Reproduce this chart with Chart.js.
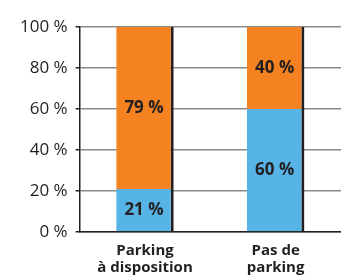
<!DOCTYPE html>
<html>
<head>
<meta charset="utf-8">
<script src="https://cdn.jsdelivr.net/npm/chart.js@4.4.1/dist/chart.umd.min.js"></script>
<style>
  html, body { margin: 0; padding: 0; background: #fff; }
  #wrap { width: 341px; height: 277px; position: relative; }
</style>
</head>
<body>
<div id="wrap"><canvas id="chart"></canvas></div>
<script>
// Chart data
const categories = [['Parking', 'à disposition'], ['Pas de', 'parking']];
const withParking = [21, 60];   // blue, bottom
const withoutParking = [79, 40]; // orange, top
const yTicks = [0, 20, 40, 60, 80, 100];

const BLUE = '#56B4E6';
const ORANGE = '#F58220';
const DARK = '#231F20';

// Percentage labels centered in each segment
const segmentLabels = {
    id: 'segmentLabels',
    afterDatasetsDraw(chart) {
        const ctx = chart.ctx;
        ctx.save();
        ctx.font = 'bold 17px "Open Sans", sans-serif';
        ctx.fillStyle = DARK;
        ctx.textAlign = 'center';
        ctx.textBaseline = 'middle';
        chart.data.datasets.forEach((ds, di) => {
            chart.getDatasetMeta(di).data.forEach((bar, i) => {
                const cx = bar.x - 1;
                const cy = (bar.y + bar.base) / 2;
                ctx.fillText(ds.data[i] + ' %', cx, cy);
            });
        });
        ctx.restore();
    }
};

new Chart(document.getElementById('chart'), {
    type: 'bar',
    data: {
        labels: categories,
        datasets: [
            {
                label: 'Parking',
                data: withParking,
                backgroundColor: BLUE,
                borderColor: DARK,
                borderWidth: { top: 0, right: 3, bottom: 0, left: 0 },
                borderSkipped: false
            },
            {
                label: 'Pas de parking',
                data: withoutParking,
                backgroundColor: ORANGE,
                borderColor: DARK,
                borderWidth: { top: 0, right: 3, bottom: 0, left: 0 },
                borderSkipped: false
            }
        ]
    },
    options: {
        responsive: true,
        maintainAspectRatio: false,
        animation: false,
        layout: { padding: { top: 27, right: 0, left: 12, bottom: 0 } },
        categoryPercentage: 1,
        barPercentage: 0.44,
        plugins: {
            legend: { display: false },
            tooltip: { enabled: false }
        },
        scales: {
            x: {
                stacked: true,
                afterFit(scale) { scale.height = 45; },
                grid: { display: false, drawTicks: false },
                border: { color: DARK, width: 1.5 },
                ticks: {
                    color: DARK,
                    font: { family: '"Open Sans", sans-serif', size: 15, weight: 'bold', lineHeight: 1.15 },
                    padding: 10,
                    maxRotation: 0
                }
            },
            y: {
                stacked: true,
                min: 0,
                max: 100,
                afterBuildTicks(axis) {
                    axis.ticks = yTicks.map(v => ({ value: v }));
                },
                grid: {
                    color: '#8a8a8a',
                    lineWidth: 1.5,
                    tickLength: 4,
                    tickColor: DARK
                },
                border: { color: DARK, width: 1.5 },
                ticks: {
                    color: DARK,
                    font: { family: '"Open Sans", sans-serif', size: 17 },
                    padding: 8,
                    callback: v => v + ' %'
                }
            }
        }
    },
    plugins: [segmentLabels]
});
</script>
</body>
</html>
